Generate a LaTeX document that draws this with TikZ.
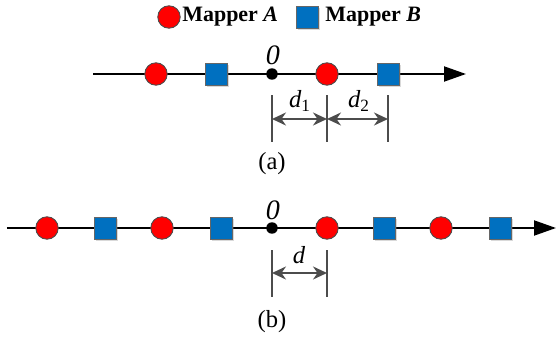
\documentclass[tikz,border=0pt]{standalone}
\usepackage{fontspec}
\setmainfont{Liberation Serif}
\usetikzlibrary{arrows.meta,shadows}
\definecolor{mapred}{HTML}{FF0000}
\definecolor{mapblue}{HTML}{0070C0}
\tikzset{
  mapa/.style={circle, draw=black!70, fill=mapred, line width=0.5pt,
    minimum size=4.5mm, inner sep=0pt},
  mapb/.style={rectangle, draw=black!60, fill=mapblue, line width=0.5pt,
    minimum size=4.4mm, inner sep=0pt, drop shadow={opacity=0.3,
    shadow xshift=0.35mm, shadow yshift=-0.35mm}},
  origin/.style={circle, fill=black, minimum size=2.3mm, inner sep=0pt},
  axis/.style={line width=1.1pt, -{Triangle[length=4.4mm, width=3mm]}},
  dimln/.style={line width=1.4pt, draw=black!70},
  dimarr/.style={line width=1.4pt, draw=black!70,
    {Stealth[length=2.8mm, width=2.6mm]}-{Stealth[length=2.8mm, width=2.6mm]}},
  lab/.style={font=\fontsize{14}{16}\selectfont\itshape, inner sep=0pt},
  zero/.style={font=\fontsize{16}{18}\selectfont\itshape, inner sep=0pt},
  leg/.style={font=\fontsize{12.5}{14}\selectfont\bfseries, anchor=west, inner sep=0pt},
  sublab/.style={font=\fontsize{14}{16}\selectfont, inner sep=0pt},
}

\begin{document}
\begin{tikzpicture}[x=0.02cm, y=-0.02cm]
    \useasboundingbox (0,0) rectangle (559,338);
    % legend
    \node[mapa] (lega) at (169,17) {};
    \node[leg] (legatxt) at (182,17) {Mapper \textit{A}};
    \node[mapb] (legb) at (307,17) {};
    \node[leg] (legbtxt) at (325,17) {Mapper \textit{B}};

    % (a): two mappers on each side
    \coordinate (astart) at (93,74);
    \coordinate (aend) at (466,74);
    \draw[axis] (astart) -- (aend);
    \node[mapa] (a1) at (156,74) {};
    \node[mapb] (a2) at (216,74) {};
    \node[mapa] (a3) at (327,74) {};
    \node[mapb] (a4) at (388,74) {};
    \node[origin] (ao) at (272,74) {};
    \node[zero] (aolab) at (273,55) {0};
    \foreach \n/\x in {t0/272, t1/327, t2/388} {
      \coordinate (\n top) at (\x,95);
      \coordinate (\n bot) at (\x,142);
      \draw[dimln] (\n top) -- (\n bot);
    }
    \coordinate (ad0) at (272,119);
    \coordinate (ad1) at (327,119);
    \coordinate (ad2) at (388,119);
    \draw[dimarr] (ad0) -- (ad1);
    \draw[dimarr] (ad1) -- (ad2);
    \node[lab] (d1) at (300,101) {d\textsubscript{\upshape 1}};
    \node[lab] (d2) at (359,101) {d\textsubscript{\upshape 2}};
    \node[sublab] (capa) at (272,164) {(a)};

    % (b): alternating mappers along the whole axis
    \coordinate (bstart) at (7,228);
    \coordinate (bend) at (556,228);
    \draw[axis] (bstart) -- (bend);
    \foreach \i/\x in {1/47, 2/162, 3/327, 4/441}
      \node[mapa] (bc\i) at (\x,228) {};
    \foreach \i/\x in {1/105, 2/221, 3/384, 4/500}
      \node[mapb] (bs\i) at (\x,228) {};
    \node[origin] (bo) at (272,228) {};
    \node[zero] (bolab) at (273,210) {0};
    \coordinate (u0top) at (272,250);
    \coordinate (u0bot) at (272,297);
    \coordinate (u1top) at (327,250);
    \coordinate (u1bot) at (327,297);
    \draw[dimln] (u0top) -- (u0bot);
    \draw[dimln] (u1top) -- (u1bot);
    \coordinate (bd0) at (272,273);
    \coordinate (bd1) at (327,273);
    \draw[dimarr] (bd0) -- (bd1);
    \node[lab] (dlab) at (299,255) {d};
    \node[sublab] (capb) at (272,322) {(b)};
\end{tikzpicture}
\end{document}
